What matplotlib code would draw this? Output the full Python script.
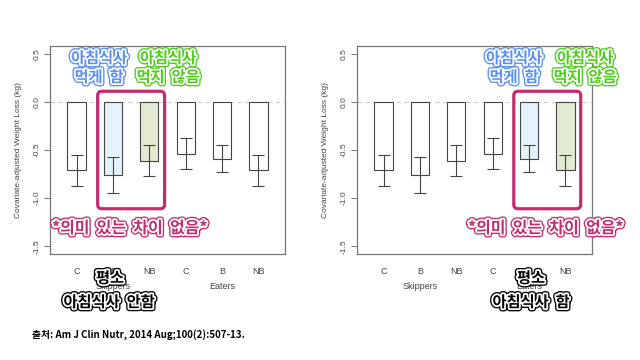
import matplotlib.pyplot as plt
import matplotlib.patheffects as pe
from matplotlib.patches import FancyBboxPatch

# 데이터
groups = ['C', 'B', 'NB', 'C', 'B', 'NB']
loss = [-0.71, -0.76, -0.61, -0.54, -0.59, -0.71]
err = [0.16, 0.19, 0.165, 0.16, 0.14, 0.16]
highlight_left = [1, 2]
highlight_right = [4, 5]

kfont = ['Noto Sans CJK KR', 'DejaVu Sans']
plt.rcParams['font.family'] = ['Liberation Sans', 'DejaVu Sans']

BLUE = '#5b8ff0'
GREEN = '#4fcc1c'
MAG = '#c22d6e'
fill_cols = ['#e4f3fb', '#e2ebd2']

fig = plt.figure(figsize=(6.4, 3.6), dpi=100)
W, H = 640, 360


def fx(x):
    return x / W


def fy(y):
    return 1 - y / H


def outlined(x, y, s, color, size, outer=None):
    outer = outer or color
    fig.text(fx(x), fy(y), s, ha='center', va='center', fontsize=size,
             fontweight='bold', family=kfont, color=color,
             path_effects=[pe.Stroke(linewidth=4.5, foreground=outer),
                           pe.Stroke(linewidth=2.6, foreground='white'),
                           pe.Normal()])


def panel(left_px, hl, box):
    ax = fig.add_axes([fx(left_px), fy(254), 235 / W, 208 / H])
    x = list(range(1, 7))
    colors = ['white'] * 6
    for i, c in zip(hl, fill_cols):
        colors[i] = c
    ax.axhline(0, color='#cccccc', lw=0.8, ls=(0, (4, 3)), zorder=0)
    ax.bar(x, loss, width=0.5, color=colors, edgecolor='#444444', lw=0.8, zorder=2)
    ax.errorbar(x, loss, yerr=err, fmt='none', ecolor='#444444', elinewidth=0.8,
                capsize=4, capthick=0.8, zorder=3)
    ax.set_xlim(0.27, 6.73)
    ax.set_ylim(-1.58, 0.58)
    ax.set_yticks([-1.5, -1.0, -0.5, 0.0, 0.5])
    ax.set_yticklabels(['-1.5', '-1.0', '-0.5', '0.0', '0.5'], rotation=90,
                       va='center', fontsize=6, color='#444444')
    ax.set_xticks(x)
    ax.set_xticklabels(groups, fontsize=6.5, color='#444444')
    ax.tick_params(axis='x', length=0, pad=9)
    ax.tick_params(axis='y', length=4, width=0.7, color='#777777', pad=3)
    for s in ax.spines.values():
        s.set_color('#777777')
        s.set_linewidth(0.9)
    ax.set_ylabel('Covariate-adjusted Weight Loss (kg)', fontsize=6, color='#444444',
                  labelpad=8)
    ax.text(2, -1.92, 'Skippers', ha='center', va='center', fontsize=6.5, color='#444444')
    ax.text(5, -1.92, 'Eaters', ha='center', va='center', fontsize=6.5, color='#444444')
    rect = FancyBboxPatch((box[0], -1.11), box[1] - box[0], 1.22,
                          boxstyle='round,pad=0,rounding_size=0.12',
                          mutation_aspect=0.37, fill=False, ec=MAG, lw=2.3,
                          zorder=5, clip_on=False)
    ax.add_patch(rect)
    return ax


panel(50, highlight_left, (1.58, 3.42))
panel(357, highlight_right, (4.58, 6.42))

# 주석
outlined(99, 58, '아침식사', BLUE, 11)
outlined(99, 77, '먹게  함', BLUE, 11)
outlined(168, 58, '아침식사', GREEN, 11)
outlined(168, 77, '먹지  않음', GREEN, 11)
outlined(514, 58, '아침식사', BLUE, 11)
outlined(514, 77, '먹게  함', BLUE, 11)
outlined(585, 58, '아침식사', GREEN, 11)
outlined(585, 77, '먹지  않음', GREEN, 11)

outlined(130, 228, '*의미  있는  차이  없음*', MAG, 11.5)
outlined(546, 228, '*의미  있는  차이  없음*', MAG, 11.5)

outlined(110, 278, '평소', 'black', 11)
outlined(109, 302, '아침식사  안함', 'black', 11)
outlined(531, 278, '평소', 'black', 11)
outlined(531, 302, '아침식사  함', 'black', 11)

fig.text(fx(32), fy(335), '출처: Am J Clin Nutr, 2014 Aug;100(2):507-13.',
         ha='left', va='center', fontsize=7, fontweight='bold', family=kfont)

fig.savefig('out.png', dpi=100)
